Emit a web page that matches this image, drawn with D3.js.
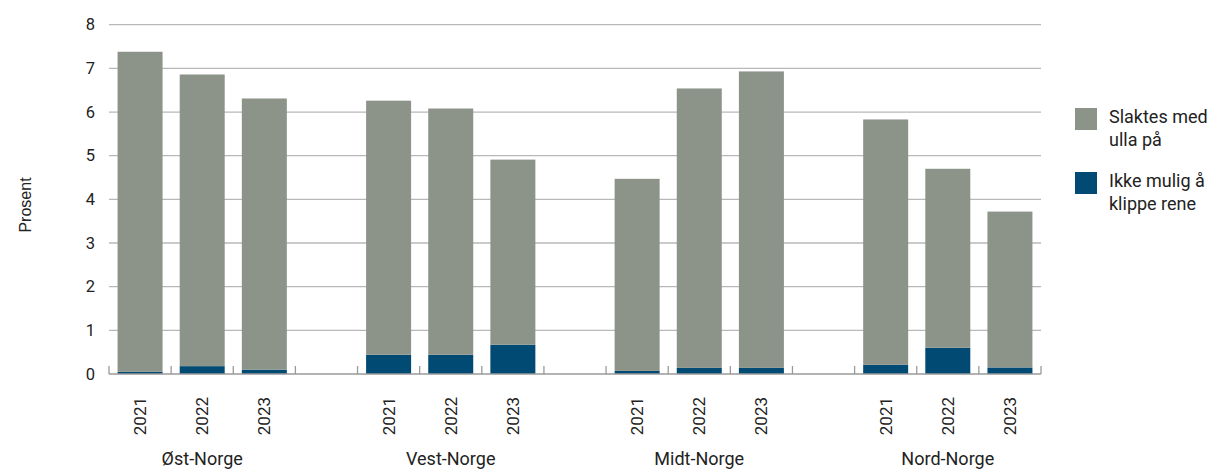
<!DOCTYPE html>
<html>
<head>
<meta charset="utf-8">
<script src="https://cdn.jsdelivr.net/npm/d3@7"></script>
<style>
  html, body { margin: 0; padding: 0; background: #fff; }
  svg { display: block; }
  text { font-family: Roboto, "Noto Sans", sans-serif; fill: #222; }
</style>
</head>
<body>
<svg id="chart" width="1214" height="470"></svg>
<script>
// Regions and years
const regions = ["Øst-Norge", "Vest-Norge", "Midt-Norge", "Nord-Norge"];
const years = ["2021", "2022", "2023"];

// Series values (percent), in order region by region, year by year
const ikkeMulig = [0.05, 0.18, 0.10,  0.44, 0.44, 0.67,  0.07, 0.14, 0.14,  0.21, 0.60, 0.15];
const slaktesMedUlla = [7.33, 6.68, 6.21,  5.82, 5.64, 4.24,  4.40, 6.40, 6.79,  5.62, 4.10, 3.57];

const legendLines = [["Slaktes med", "ulla på"], ["Ikke mulig å", "klippe rene"]];
const yTicks = [0, 1, 2, 3, 4, 5, 6, 7, 8];

const colors = { ikke: "#004a73", slakt: "#8c948a" };

// Build slots: each region has three years, followed by an empty spacer slot
const slots = [];
const rows = [];
regions.forEach((r, ri) => {
  years.forEach((y, yi) => {
    const key = r + "|" + y;
    slots.push(key);
    const i = ri * years.length + yi;
    rows.push({ key, region: r, year: y, ikke: ikkeMulig[i], slakt: slaktesMedUlla[i] });
  });
  if (ri < regions.length - 1) slots.push("gap" + ri);
});

const svg = d3.select("#chart");
const left = 109, right = 1041;

const x = d3.scaleBand().domain(slots).range([left, right]).paddingInner(0).paddingOuter(0);
const y = d3.scaleLinear().domain([0, 8]).range([374, 24.7]);

// Gridlines
svg.append("g")
  .selectAll("line")
  .data(yTicks.filter(d => d > 0))
  .join("line")
  .attr("x1", left).attr("x2", right)
  .attr("y1", d => y(d)).attr("y2", d => y(d))
  .attr("stroke", "#b8b8b8").attr("stroke-width", 1.3);

// Y tick labels
svg.append("g")
  .selectAll("text")
  .data(yTicks)
  .join("text")
  .attr("x", 95)
  .attr("y", d => y(d))
  .attr("dy", "0.35em")
  .attr("text-anchor", "end")
  .attr("font-size", 16.5)
  .text(d => d);

// Stacked bars
const stack = d3.stack().keys(["ikke", "slakt"]);
const stacked = stack(rows);
const barW = 45;
svg.append("g")
  .selectAll("g")
  .data(stacked)
  .join("g")
  .attr("fill", d => colors[d.key])
  .selectAll("rect")
  .data(d => d)
  .join("rect")
  .attr("x", d => x(d.data.key) + x.bandwidth() / 2 - barW / 2)
  .attr("width", barW)
  .attr("y", d => y(d[1]))
  .attr("height", d => y(d[0]) - y(d[1]));

// X axis line and slot-boundary ticks
const axisG = svg.append("g");
axisG.append("line")
  .attr("x1", left).attr("x2", right)
  .attr("y1", 374).attr("y2", 374)
  .attr("stroke", "#9a9a9a").attr("stroke-width", 1.3);
const boundaries = slots.map(s => x(s)).concat([x(slots[slots.length - 1]) + x.bandwidth()]);
axisG.selectAll("line.tick")
  .data(boundaries)
  .join("line")
  .attr("class", "tick")
  .attr("x1", d => d).attr("x2", d => d)
  .attr("y1", 366).attr("y2", 374)
  .attr("stroke", "#9a9a9a").attr("stroke-width", 1.3);

// Year labels (rotated)
svg.append("g")
  .selectAll("text")
  .data(rows)
  .join("text")
  .attr("transform", d => `translate(${x(d.key) + x.bandwidth() / 2 + 6},397) rotate(-90)`)
  .attr("text-anchor", "end")
  .attr("font-size", 17)
  .text(d => d.year);

// Region labels
svg.append("g")
  .selectAll("text")
  .data(regions)
  .join("text")
  .attr("x", r => x(r + "|" + years[1]) + x.bandwidth() / 2)
  .attr("y", 465)
  .attr("text-anchor", "middle")
  .attr("font-size", 18)
  .text(r => r);

// Y axis title
svg.append("text")
  .attr("transform", "translate(31,205) rotate(-90)")
  .attr("text-anchor", "middle")
  .attr("font-size", 16)
  .style("font-family", "'Liberation Sans', Arial, sans-serif")
  .text("Prosent");

// Legend
const legend = svg.append("g");
const legendItems = [
  { color: colors.slakt, lines: legendLines[0], y: 108 },
  { color: colors.ikke, lines: legendLines[1], y: 172 }
];
legendItems.forEach(it => {
  legend.append("rect")
    .attr("x", 1075).attr("y", it.y)
    .attr("width", 22).attr("height", 22)
    .attr("fill", it.color);
  const t = legend.append("text")
    .attr("x", 1109).attr("y", it.y + 15)
    .attr("font-size", 18);
  it.lines.forEach((ln, i) => {
    t.append("tspan").attr("x", 1109).attr("dy", i === 0 ? 0 : 23).text(ln);
  });
});
</script>
</body>
</html>
